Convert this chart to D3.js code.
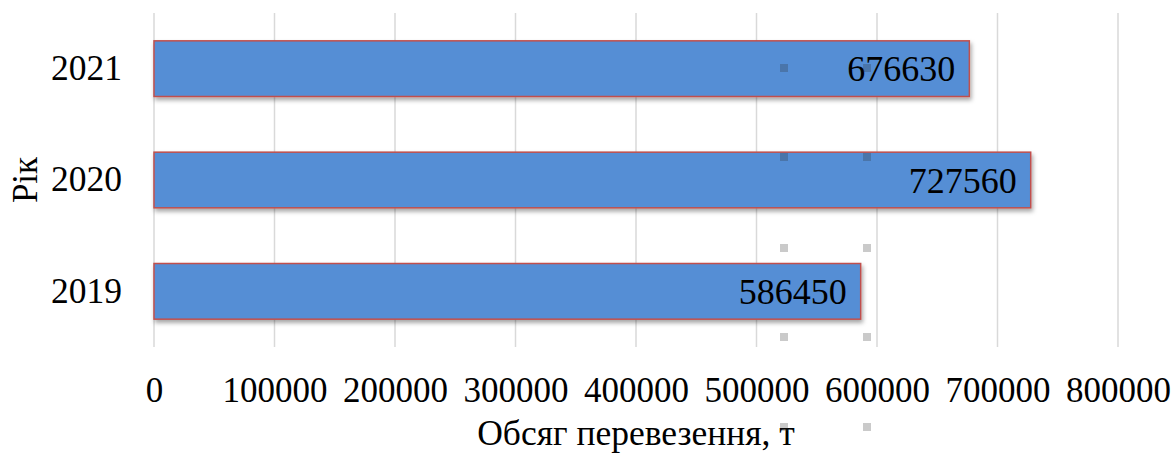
<!DOCTYPE html>
<html>
<head>
<meta charset="utf-8">
<script src="https://cdn.jsdelivr.net/npm/d3@7"></script>
<style>
  html, body { margin: 0; padding: 0; background: #ffffff; }
  svg { display: block; }
  text { font-family: "Liberation Serif", "Times New Roman", serif; fill: #000; }
</style>
</head>
<body>
<svg id="chart" width="1176" height="454"></svg>
<script>
// Freight volume by year, tonnes
const years = ["2021", "2020", "2019"];
const volumes = [676630, 727560, 586450];
const xTicks = [0, 100000, 200000, 300000, 400000, 500000, 600000, 700000, 800000];
const xTitle = "Обсяг перевезення, т";
const yTitle = "Рік";

const W = 1176, H = 454;
const margin = { top: 13, right: 58, bottom: 107, left: 154 };
const svg = d3.select("#chart");

const x = d3.scaleLinear()
  .domain([0, 800000])
  .range([margin.left, W - margin.right]);

const y = d3.scaleBand()
  .domain(years)
  .range([margin.top, H - margin.bottom])
  .paddingInner(0.5)
  .paddingOuter(0.25);

// soft shadow under the bars
const defs = svg.append("defs");
const f = defs.append("filter").attr("id", "shadow")
  .attr("x", "-5%").attr("y", "-20%").attr("width", "110%").attr("height", "160%");
f.append("feDropShadow")
  .attr("dx", 1.5).attr("dy", 3).attr("stdDeviation", 2)
  .attr("flood-color", "#000").attr("flood-opacity", 0.35);

// vertical gridlines
svg.append("g")
  .selectAll("line")
  .data(xTicks)
  .join("line")
  .attr("x1", d => x(d)).attr("x2", d => x(d))
  .attr("y1", margin.top).attr("y2", H - margin.bottom)
  .attr("stroke", "#d9d9d9")
  .attr("stroke-width", 1.5);

// bottom axis labels
const xAxis = d3.axisBottom(x)
  .tickValues(xTicks)
  .tickFormat(d3.format("d"))
  .tickSize(0)
  .tickPadding(30);
const gx = svg.append("g")
  .attr("transform", `translate(0,${H - margin.bottom})`)
  .call(xAxis);
gx.select(".domain").remove();
gx.selectAll("text")
  .attr("font-family", "Liberation Serif, Times New Roman, serif")
  .attr("font-size", 35)
  .attr("fill", "#000");

// left axis labels
const yAxis = d3.axisLeft(y).tickSize(0).tickPadding(32);
const gy = svg.append("g")
  .attr("transform", `translate(${margin.left},0)`)
  .call(yAxis);
gy.select(".domain").remove();
gy.selectAll("text")
  .attr("font-family", "Liberation Serif, Times New Roman, serif")
  .attr("font-size", 35.5)
  .attr("fill", "#000");

// bars
const rows = years.map((yr, i) => ({ year: yr, value: volumes[i] }));
svg.append("g")
  .selectAll("rect")
  .data(rows)
  .join("rect")
  .attr("x", x(0))
  .attr("y", d => y(d.year))
  .attr("width", d => x(d.value) - x(0))
  .attr("height", y.bandwidth())
  .attr("fill", "#558ed5")
  .attr("stroke", "#c0504d")
  .attr("stroke-width", 1.5)
  .attr("filter", "url(#shadow)");

// value labels inside the bar ends
svg.append("g")
  .selectAll("text")
  .data(rows)
  .join("text")
  .attr("x", d => x(d.value) - 14)
  .attr("y", d => y(d.year) + y.bandwidth() / 2)
  .attr("dy", "0.35em")
  .attr("text-anchor", "end")
  .attr("font-size", 36)
  .text(d => d.value);

// axis titles
svg.append("text")
  .attr("x", (x.range()[0] + x.range()[1]) / 2)
  .attr("y", 445)
  .attr("text-anchor", "middle")
  .attr("font-size", 35.5)
  .text(xTitle);

svg.append("text")
  .attr("transform", `translate(37,${(margin.top + H - margin.bottom) / 2}) rotate(-90)`)
  .attr("text-anchor", "middle")
  .attr("font-size", 35)
  .text(yTitle);

// resize handles of the selected frame
const handleCols = [784, 867];
const handleRows = [68, 157, 248, 337, 427];
svg.append("g")
  .selectAll("rect")
  .data(handleRows.flatMap(r => handleCols.map(c => [c, r])))
  .join("rect")
  .attr("x", d => d[0] - 4).attr("y", d => d[1] - 4)
  .attr("width", 8).attr("height", 8)
  .attr("fill", "#2a2a2a")
  .attr("fill-opacity", 0.25);
</script>
</body>
</html>
